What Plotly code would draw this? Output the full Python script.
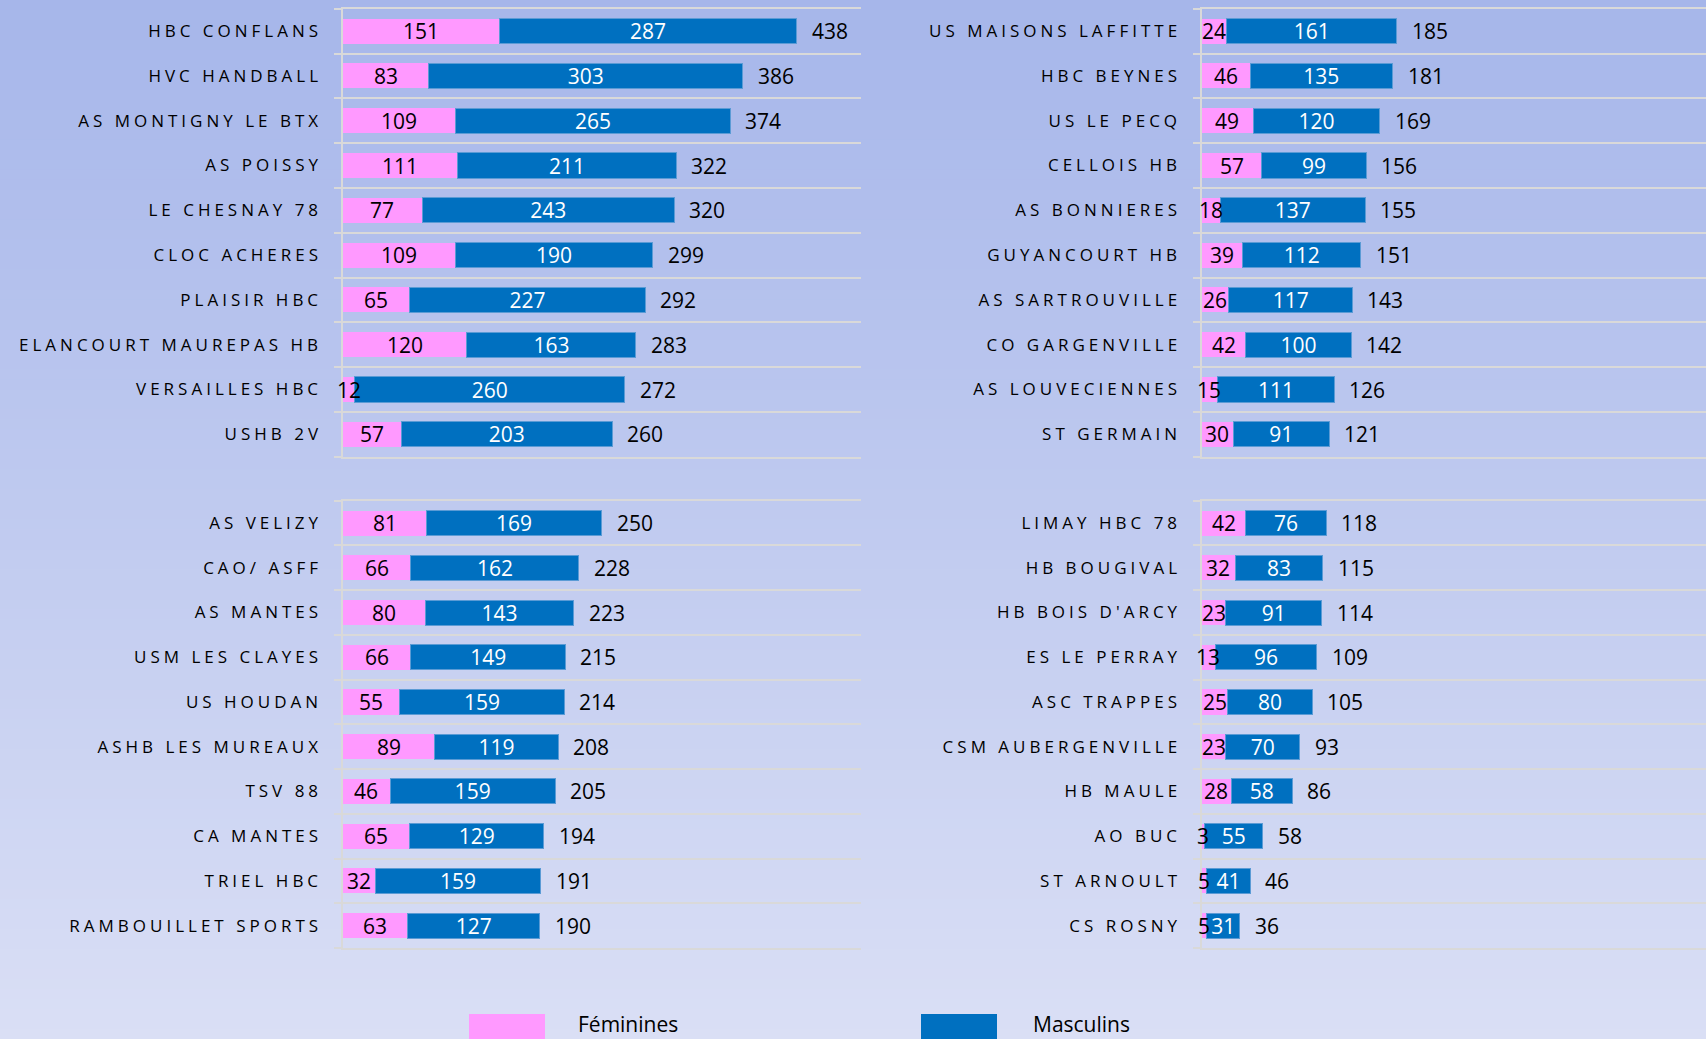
import plotly.graph_objects as go

# ---------------- data ----------------
clubs_tl = ["HBC CONFLANS", "HVC HANDBALL", "AS MONTIGNY LE BTX", "AS POISSY", "LE CHESNAY 78",
            "CLOC ACHERES", "PLAISIR HBC", "ELANCOURT MAUREPAS HB", "VERSAILLES HBC", "USHB 2V"]
fem_tl = [151, 83, 109, 111, 77, 109, 65, 120, 12, 57]
masc_tl = [287, 303, 265, 211, 243, 190, 227, 163, 260, 203]
total_tl = [438, 386, 374, 322, 320, 299, 292, 283, 272, 260]

clubs_tr = ["US MAISONS LAFFITTE", "HBC BEYNES", "US LE PECQ", "CELLOIS HB", "AS BONNIERES",
            "GUYANCOURT HB", "AS SARTROUVILLE", "CO GARGENVILLE", "AS LOUVECIENNES", "ST GERMAIN"]
fem_tr = [24, 46, 49, 57, 18, 39, 26, 42, 15, 30]
masc_tr = [161, 135, 120, 99, 137, 112, 117, 100, 111, 91]
total_tr = [185, 181, 169, 156, 155, 151, 143, 142, 126, 121]

clubs_bl = ["AS VELIZY", "CAO/ ASFF", "AS MANTES", "USM LES CLAYES", "US HOUDAN",
            "ASHB LES MUREAUX", "TSV 88", "CA MANTES", "TRIEL HBC", "RAMBOUILLET SPORTS"]
fem_bl = [81, 66, 80, 66, 55, 89, 46, 65, 32, 63]
masc_bl = [169, 162, 143, 149, 159, 119, 159, 129, 159, 127]
total_bl = [250, 228, 223, 215, 214, 208, 205, 194, 191, 190]

clubs_br = ["LIMAY HBC 78", "HB BOUGIVAL", "HB BOIS D'ARCY", "ES LE PERRAY", "ASC TRAPPES",
            "CSM AUBERGENVILLE", "HB MAULE", "AO BUC", "ST ARNOULT", "CS ROSNY"]
fem_br = [42, 32, 23, 13, 25, 23, 28, 3, 5, 5]
masc_br = [76, 83, 91, 96, 80, 70, 58, 55, 41, 31]
total_br = [118, 115, 114, 109, 105, 93, 86, 58, 46, 36]

legend_names = ["Féminines", "Masculins"]

# ---------------- styling ----------------
W, H = 1706, 1039
PINK = "#FF99FF"
BLUE = "#0070C0"
GRID = "#D9D9D9"
NUM_FONT = "Open Sans"
LBL_FONT = "Open Sans"
NUM_SIZE = 21

fig = go.Figure()

panels = [
    (clubs_tl, fem_tl, masc_tl, total_tl, "x", "y"),
    (clubs_tr, fem_tr, masc_tr, total_tr, "x2", "y2"),
    (clubs_bl, fem_bl, masc_bl, total_bl, "x3", "y3"),
    (clubs_br, fem_br, masc_br, total_br, "x4", "y4"),
]

annotations = []
for clubs, fem, masc, tot, xa, ya in panels:
    fig.add_trace(go.Bar(
        x=fem, y=clubs, orientation="h", name=legend_names[0],
        marker=dict(color=PINK, line=dict(width=0)),
        xaxis=xa, yaxis=ya, showlegend=False, hoverinfo="skip",
    ))
    fig.add_trace(go.Bar(
        x=masc, y=clubs, orientation="h", name=legend_names[1],
        marker=dict(color=BLUE, line=dict(width=1, color="#5B9BD5")),
        text=[str(v) for v in masc], textposition="inside", insidetextanchor="middle",
        textangle=0, constraintext="none", cliponaxis=False,
        textfont=dict(family=NUM_FONT, size=NUM_SIZE, color="#FFFFFF"),
        xaxis=xa, yaxis=ya, showlegend=False, hoverinfo="skip",
    ))
    # pink segment labels: centred on the segment, drawn above the bars
    for c, f in zip(clubs, fem):
        annotations.append(dict(
            x=f / 2, y=c, xref=xa, yref=ya, text=str(f), showarrow=False,
            xanchor="center", yanchor="middle",
            font=dict(family=NUM_FONT, size=NUM_SIZE, color="#000000"),
        ))
    # totals
    for c, t in zip(clubs, tot):
        annotations.append(dict(
            x=t, y=c, xref=xa, yref=ya, text=str(t), showarrow=False,
            xanchor="left", yanchor="middle", xshift=13,
            font=dict(family=NUM_FONT, size=NUM_SIZE, color="#000000"),
        ))

# domains (pixel -> paper)
def px_x(p):
    return p / W

def px_y(p):
    return 1 - p / H

x_left = [px_x(342.5), px_x(861)]
x_right = [px_x(1201.5), 1.0]
y_top = [px_y(456.7), px_y(8.7)]
y_bot = [px_y(948), px_y(500.7)]

def xaxis(domain, rng, anchor):
    return dict(domain=domain, range=rng, anchor=anchor, showgrid=False, zeroline=False,
                showline=True, mirror=True, linecolor=GRID, linewidth=2,
                showticklabels=False, ticks="", fixedrange=True, layer="below traces")

def yaxis(domain, clubs, anchor):
    return dict(domain=domain, anchor=anchor, type="category",
                categoryorder="array", categoryarray=clubs, autorange="reversed",
                tickson="boundaries", ticks="outside", ticklen=7, tickwidth=2, tickcolor=GRID,
                showgrid=True, gridcolor=GRID, gridwidth=2,
                showline=True, linecolor=GRID, linewidth=2, layer="below traces",
                tickmode="array", tickvals=clubs,
                ticktext=[f'<span style="letter-spacing:4px">{c}</span>' for c in clubs],
                tickfont=dict(family=LBL_FONT, size=17, color="#000000"),
                ticklabelstandoff=15, fixedrange=True)

# background gradient bands
top_rgb = (166, 182, 234)
bot_rgb = (218, 223, 245)
shapes = []
n_bands = 104
for i in range(n_bands):
    f = (i + 0.5) / n_bands
    col = tuple(round(top_rgb[k] + (bot_rgb[k] - top_rgb[k]) * f) for k in range(3))
    shapes.append(dict(type="rect", xref="paper", yref="paper", layer="below",
                       x0=0, x1=1, y0=1 - (i + 1) / n_bands - 0.001, y1=1 - i / n_bands,
                       line=dict(width=0), fillcolor="rgb(%d,%d,%d)" % col))

# legend (manual, large swatches as in reference)
shapes.append(dict(type="rect", xref="paper", yref="paper", x0=px_x(469), x1=px_x(545),
                   y0=-0.02, y1=px_y(1014), line=dict(width=0), fillcolor=PINK))
shapes.append(dict(type="rect", xref="paper", yref="paper", x0=px_x(921), x1=px_x(997),
                   y0=-0.02, y1=px_y(1014), line=dict(width=0), fillcolor=BLUE))
annotations.append(dict(x=px_x(576), y=px_y(1024), xref="paper", yref="paper",
                        text=legend_names[0], showarrow=False, xanchor="left", yanchor="middle",
                        font=dict(family=NUM_FONT, size=21, color="#000000")))
annotations.append(dict(x=px_x(1031), y=px_y(1024), xref="paper", yref="paper",
                        text=legend_names[1], showarrow=False, xanchor="left", yanchor="middle",
                        font=dict(family=NUM_FONT, size=21, color="#000000")))

fig.update_layout(
    width=W, height=H, margin=dict(l=0, r=0, t=0, b=0),
    paper_bgcolor="rgb(166,182,234)", plot_bgcolor="rgba(0,0,0,0)",
    barmode="stack", bargap=0.44, showlegend=False,
    xaxis=xaxis(x_left, [0, 500], "y"),
    yaxis=yaxis(y_top, clubs_tl, "x"),
    xaxis2=xaxis(x_right, [0, 478], "y2"),
    yaxis2=yaxis(y_top, clubs_tr, "x2"),
    xaxis3=xaxis(x_left, [0, 500], "y3"),
    yaxis3=yaxis(y_bot, clubs_bl, "x3"),
    xaxis4=xaxis(x_right, [0, 478], "y4"),
    yaxis4=yaxis(y_bot, clubs_br, "x4"),
    shapes=shapes, annotations=annotations,
)

fig.write_html("out.html", config={"displayModeBar": False})
